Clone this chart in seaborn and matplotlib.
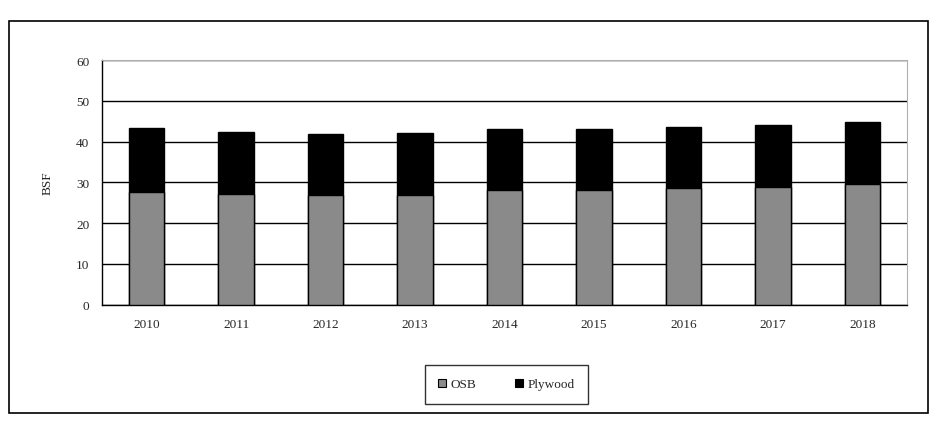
import pandas as pd
import matplotlib.pyplot as plt
import seaborn as sns
import numpy as np
from matplotlib.patches import Rectangle, Patch

# Values (BSF)
years = ['2010', '2011', '2012', '2013', '2014', '2015', '2016', '2017', '2018']
osb = [27.7, 27.2, 26.9, 26.9, 28.0, 28.2, 28.5, 28.9, 29.7]
plywood = [15.6, 15.2, 15.0, 15.2, 15.1, 14.9, 15.1, 15.2, 15.1]

sns.set_style('white')
plt.rcParams['font.family'] = ['Liberation Serif', 'DejaVu Serif']

df = pd.DataFrame({'Year': years, 'OSB': osb, 'Plywood': plywood})
df['Total'] = df['OSB'] + df['Plywood']

fig = plt.figure(figsize=(9.43, 4.39), dpi=100)
ax = fig.add_axes([0.108, 0.304, 0.854, 0.557])

# stacked: draw total in black, then OSB on top of it
sns.barplot(data=df, x='Year', y='Total', color='black', width=0.4,
            edgecolor='black', linewidth=1, ax=ax, zorder=3)
sns.barplot(data=df, x='Year', y='OSB', color='#8a8a8a', width=0.4,
            edgecolor='black', linewidth=1, ax=ax, zorder=4)
for p in ax.patches:
    p.set_alpha(None)

ax.set_ylim(0, 60)
ax.set_xlim(-0.5, len(years) - 0.5)
ax.set_yticks(range(0, 61, 10))
ax.yaxis.grid(True, color='black', linewidth=1)
ax.set_axisbelow(True)

ax.set_xlabel('')
ax.set_ylabel('BSF', fontsize=9.5, labelpad=16)

# tick marks between the categories, none under the labels
ax.set_xticks(np.arange(-0.5, len(years), 1.0), minor=True)
ax.tick_params(axis='x', which='major', length=0, labelsize=9.5, pad=10)
ax.tick_params(axis='x', which='minor', length=4, width=1, color='black', direction='out')
ax.tick_params(axis='y', length=4, width=1, color='black', direction='out', labelsize=9.5, pad=5)

for s in ['left', 'bottom']:
    ax.spines[s].set_color('black')
    ax.spines[s].set_linewidth(1)
for s in ['top', 'right']:
    ax.spines[s].set_color('#b0b0b0')
    ax.spines[s].set_linewidth(0.8)

handles = [Patch(facecolor='#8a8a8a', edgecolor='black', linewidth=0.8, label='OSB'),
           Patch(facecolor='black', edgecolor='black', linewidth=0.8, label='Plywood')]
leg = fig.legend(handles=handles, loc='center', bbox_to_anchor=(0.537, 0.122),
                 ncol=2, fontsize=9.5, frameon=True, fancybox=False,
                 handlelength=0.6, handleheight=0.6, handletextpad=0.3,
                 columnspacing=3.0, borderpad=1.0, borderaxespad=0)
leg.get_frame().set_edgecolor('black')
leg.get_frame().set_linewidth(1)

# outer chart frame
fig.patches.append(Rectangle((0.0095, 0.057), 0.975, 0.893, transform=fig.transFigure,
                             fill=False, edgecolor='black', linewidth=1.2))

fig.savefig('out.png', dpi=100)
